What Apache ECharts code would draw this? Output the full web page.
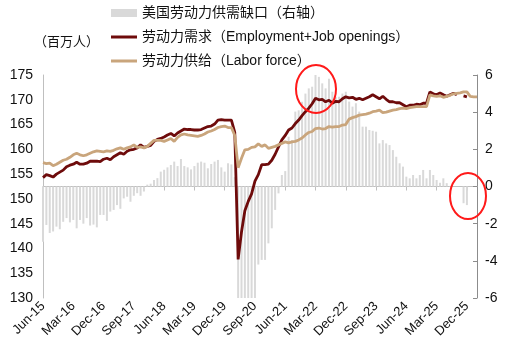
<!DOCTYPE html>
<html>
<head>
<meta charset="utf-8">
<script src="https://cdn.jsdelivr.net/npm/echarts@6/dist/echarts.min.js"></script>
<style>
  html, body { margin: 0; padding: 0; background: #fff; }
  #chart { width: 514px; height: 354px; }
</style>
</head>
<body>
<div id="chart"></div>
<script>
// 月份 Jun-15 ~ Mar-26
var monthNames = ['Jan','Feb','Mar','Apr','May','Jun','Jul','Aug','Sep','Oct','Nov','Dec'];
var categories = [];
for (var k = 0; k < 130; k++) {
    var m = (5 + k) % 12, y = 15 + Math.floor((5 + k) / 12);
    categories.push(monthNames[m] + '-' + y);
}

// 劳动力供需缺口（右轴），百万人
var gapData = [
    -2.97,-2.07,-2.5,-2.42,-2.16,-2.3,-1.9,-1.7,-1.93,-1.8,
    -2.25,-1.8,-2.0,-1.7,-2.1,-2.05,-2.2,-1.53,-1.53,-1.85,
    -1.35,-1.26,-1.0,-1.2,-0.64,-0.55,-0.82,-0.5,-0.36,-0.5,
    -0.27,0.1,0.15,0.35,0.45,0.8,0.9,1.03,1.16,1.34,
    1.1,1.48,1.1,1.03,0.92,1.1,1.28,1.34,1.28,0.98,
    1.21,1.34,1.43,1.03,0.8,1.25,1.19,0.5,-18.5,-15.1,
    -12.1,-10.5,-9.4,-6.9,-4.2,-3.95,-3.95,-3.06,-2.25,-1.26,
    -0.37,0.62,0.83,2.68,2.5,4.03,4.1,4.56,5.0,5.28,
    5.37,6.0,5.9,5.55,5.28,5.8,5.1,4.83,4.83,5.0,
    5.1,4.57,4.3,4.48,4.03,3.22,3.22,3.04,3.0,2.95,
    2.32,2.5,2.32,2.23,1.96,1.6,1.25,1.07,0.53,0.44,
    0.62,0.44,0.62,0.89,0.44,0.89,0.62,0.35,0.2,0.44,
    0.18,0.03,null,null,null,-0.9,-1.0,null,null,null
];

// 劳动力需求（Employment+Job openings）
var demandData = [
    154.3,154.9,154.7,154.4,155.0,155.4,155.8,156.5,156.8,157.0,
    157.4,157.0,157.0,157.2,157.6,157.6,157.6,157.5,158.0,158.2,
    157.9,158.5,158.9,159.3,159.0,159.6,159.9,160.0,160.3,160.9,
    160.4,160.6,160.8,161.6,162.0,162.2,162.5,162.9,163.2,162.7,
    163.3,163.7,164.1,164.0,164.0,163.9,163.9,164.0,164.3,164.6,
    164.7,165.1,165.9,166.0,165.9,165.9,165.9,163.4,137.8,143.3,
    147.6,149.5,151.0,153.6,154.9,156.9,156.9,157.0,157.8,159.0,
    160.5,161.9,162.8,163.9,164.3,165.2,165.9,166.8,167.6,168.3,
    169.2,170.3,170.0,170.1,169.6,169.9,169.3,169.7,169.6,170.2,
    170.6,170.4,170.5,170.1,170.3,170.0,170.3,170.6,171.0,170.6,
    170.2,170.7,170.1,169.6,169.6,169.4,169.4,169.0,168.6,168.9,
    168.9,169.1,169.0,169.3,169.3,171.6,171.2,171.0,171.4,171.0,
    170.7,171.0,171.3,171.0,null,170.8,170.6,null,null,null
];

// 劳动力供给（Labor force）
var supplyData = [
    157.3,157.1,157.2,156.7,157.0,157.4,157.8,158.0,158.4,158.9,
    159.2,158.9,158.7,158.9,159.2,159.5,159.7,159.6,159.5,159.7,
    159.6,159.8,160.1,160.3,160.0,160.3,160.5,160.9,160.4,160.5,
    160.3,160.6,161.2,161.8,161.8,161.8,161.6,161.9,162.2,161.6,
    162.4,162.9,163.1,162.9,162.8,162.7,162.6,162.8,163.1,163.5,
    163.7,164.0,164.4,164.6,164.7,164.4,164.4,162.8,156.3,158.2,
    159.9,160.0,160.4,160.5,161.1,160.6,160.9,160.2,160.4,160.6,
    160.9,161.2,161.5,161.3,161.5,161.6,161.9,162.3,162.9,163.4,
    163.6,164.2,164.3,164.1,164.2,164.6,164.5,164.6,164.6,164.9,
    165.0,166.1,166.4,166.6,166.9,167.0,167.1,167.3,167.6,167.7,
    167.9,167.4,167.5,167.7,167.9,168.0,168.2,168.3,168.2,168.4,
    168.5,168.6,168.6,168.6,168.6,171.0,170.8,170.7,170.8,170.5,
    170.7,170.9,171.2,171.3,171.4,171.6,171.6,170.7,170.6,170.6
];

var seriesNames = ['美国劳动力供需缺口（右轴）', '劳动力需求（Employment+Job openings）', '劳动力供给（Labor force）'];

var fontFamily = 'Liberation Sans, Arial, Noto Sans CJK SC, sans-serif';
var lineIcon = 'path://M0,0L26,0L26,3L0,3Z';
var chart = echarts.init(document.getElementById('chart'));

var option = {
    animation: false,
    textStyle: { fontFamily: fontFamily },
    grid: { left: 43, right: 37, top: 75, bottom: 56, containLabel: false },
    legend: {
        orient: 'vertical',
        left: 106,
        top: 1,
        itemWidth: 26,
        itemHeight: 8,
        itemGap: 10,
        textStyle: { fontSize: 14, color: '#111', fontFamily: fontFamily },
        data: [
            { name: seriesNames[0], icon: 'rect' },
            { name: seriesNames[1], icon: lineIcon },
            { name: seriesNames[2], icon: lineIcon }
        ]
    },
    graphic: [
        {
            type: 'text', left: 34, top: 36,
            style: { text: '（百万人）', fontSize: 13, fill: '#111', fontFamily: fontFamily }
        },
        // 红圈标注
        {
            type: 'ellipse', shape: { cx: 316, cy: 89, rx: 20, ry: 24 },
            style: { fill: 'none', stroke: '#ff1a1a', lineWidth: 2 }, z: 100
        },
        {
            type: 'ellipse', shape: { cx: 468, cy: 196, rx: 18, ry: 23 },
            style: { fill: 'none', stroke: '#ff1a1a', lineWidth: 2 }, z: 100
        }
    ],
    xAxis: {
        type: 'category',
        data: categories,
        boundaryGap: false,
        axisLine: { lineStyle: { color: '#bfbfbf' } },
        axisTick: { show: true, interval: 8, length: 4, lineStyle: { color: '#bfbfbf' } },
        axisLabel: { interval: 8, rotate: 45, fontSize: 13, color: '#111', margin: 6 },
        splitLine: { show: false }
    },
    yAxis: [
        {
            type: 'value', min: 130, max: 175, interval: 5,
            axisLine: { show: true, lineStyle: { color: '#bfbfbf' } },
            axisTick: { show: false },
            axisLabel: { fontSize: 14, color: '#111', margin: 10 },
            splitLine: { show: false }
        },
        {
            type: 'value', min: -6, max: 6, interval: 2, position: 'right',
            axisLine: { show: true, lineStyle: { color: '#8c8c8c' } },
            axisTick: { show: true, inside: true, length: 4, lineStyle: { color: '#8c8c8c' } },
            axisLabel: { fontSize: 14, color: '#111', margin: 8 },
            splitLine: { show: false }
        }
    ],
    series: [
        {
            name: seriesNames[0],
            type: 'bar',
            yAxisIndex: 1,
            barWidth: 2,
            itemStyle: { color: '#d9d9d9' },
            data: gapData
        },
        {
            name: seriesNames[1],
            type: 'line',
            symbol: 'none',
            lineStyle: { color: '#6e0b0b', width: 2.8 },
            itemStyle: { color: '#6e0b0b' },
            data: demandData
        },
        {
            name: seriesNames[2],
            type: 'line',
            symbol: 'none',
            lineStyle: { color: '#c9a57c', width: 2.8 },
            itemStyle: { color: '#c9a57c' },
            data: supplyData
        }
    ]
};

chart.setOption(option);
</script>
</body>
</html>
